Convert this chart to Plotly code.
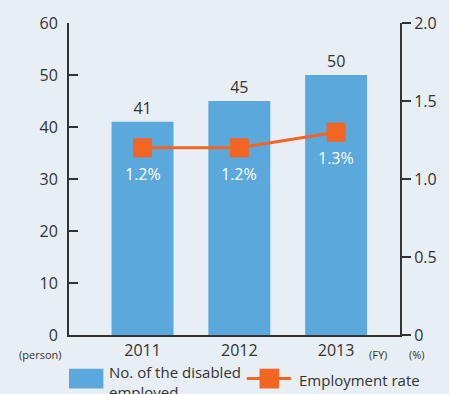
import plotly.graph_objects as go

years = ["2011", "2012", "2013"]
disabled_employed = [41, 45, 50]
employment_rate = [1.2, 1.2, 1.3]
rate_labels = ["1.2%", "1.2%", "1.3%"]

BAR = "#5ba8dd"
ORANGE = "#f26522"
INK = "#333333"
BG = "#e7eef4"
FONT = "Open Sans, Noto Sans, sans-serif"

fig = go.Figure()

fig.add_trace(go.Bar(
    x=years, y=disabled_employed, yaxis="y",
    marker=dict(color=BAR, line=dict(width=0)),
    width=0.64, showlegend=False,
    text=[str(v) for v in disabled_employed], textposition="outside",
    textfont=dict(size=16, color=INK, family=FONT), cliponaxis=False,
))

fig.add_trace(go.Scatter(
    x=years, y=employment_rate, yaxis="y2",
    mode="lines+markers",
    line=dict(color=ORANGE, width=3),
    marker=dict(symbol="square", size=19, color=ORANGE),
    showlegend=False,
))

W, H = 449, 394
ML, MR, MT, MB = 69, 43, 20, 59
pw, ph = W - ML - MR, H - MT - MB


def px_x(x):
    return (x - ML) / pw


def px_y(y_from_top):
    return (H - y_from_top - MB) / ph


annotations = []
for i, (v, t) in enumerate(zip(employment_rate, rate_labels)):
    annotations.append(dict(x=i, y=v, xref="x", yref="y2", text=t,
                            showarrow=False, yshift=-26,
                            xanchor="center", yanchor="middle",
                            font=dict(size=16, color="white", family=FONT)))


def label(x, y, text, size, anchor="center", align="center"):
    return dict(x=px_x(x), y=px_y(y), xref="paper", yref="paper", text=text,
                showarrow=False, xanchor=anchor, yanchor="middle", align=align,
                font=dict(size=size, color=INK, family=FONT))


# unit labels
annotations += [
    label(40, 355, "(person)", 11),
    label(384, 355, "(FY)", 11),
    label(423, 355, "(%)", 11),
]

# legend drawn at the bottom
annotations += [
    label(108, 382, "No. of the disabled<br>employed", 15, anchor="left", align="left"),
    label(301, 380, "Employment rate", 15, anchor="left"),
]

shapes = [
    dict(type="rect", xref="paper", yref="paper",
         x0=px_x(69), x1=px_x(104), y0=px_y(389), y1=px_y(369),
         fillcolor=BAR, line=dict(width=0)),
    dict(type="line", xref="paper", yref="paper",
         x0=px_x(250), x1=px_x(295), y0=px_y(379), y1=px_y(379),
         line=dict(color=ORANGE, width=3)),
    dict(type="rect", xref="paper", yref="paper",
         x0=px_x(263), x1=px_x(283), y0=px_y(389), y1=px_y(369),
         fillcolor=ORANGE, line=dict(width=0)),
]

fig.update_layout(
    width=W, height=H,
    margin=dict(l=ML, r=MR, t=MT, b=MB),
    paper_bgcolor=BG, plot_bgcolor=BG,
    font=dict(family=FONT, color=INK, size=16),
    xaxis=dict(type="category", range=[-0.76, 2.66], showline=True,
               linecolor=INK, linewidth=2, ticks="", showgrid=False,
               tickfont=dict(size=16, color=INK)),
    yaxis=dict(range=[0, 60], dtick=10, showline=True, linecolor=INK, linewidth=2,
               ticks="inside", ticklen=9, tickwidth=2, tickcolor=INK,
               showgrid=False, zeroline=False, ticklabelstandoff=6,
               tickfont=dict(size=16, color=INK)),
    yaxis2=dict(range=[0, 2.0], overlaying="y", side="right",
                showline=True, linecolor=INK, linewidth=2,
                ticks="outside", ticklen=9, tickwidth=2, tickcolor=INK,
                showgrid=False, zeroline=False,
                tickvals=[0, 0.5, 1.0, 1.5, 2.0],
                ticktext=["0", "0.5", "1.0", "1.5", "2.0"],
                tickfont=dict(size=16, color=INK)),
    annotations=annotations,
    shapes=shapes,
    bargap=0.36,
)

fig.write_html("out.html")
